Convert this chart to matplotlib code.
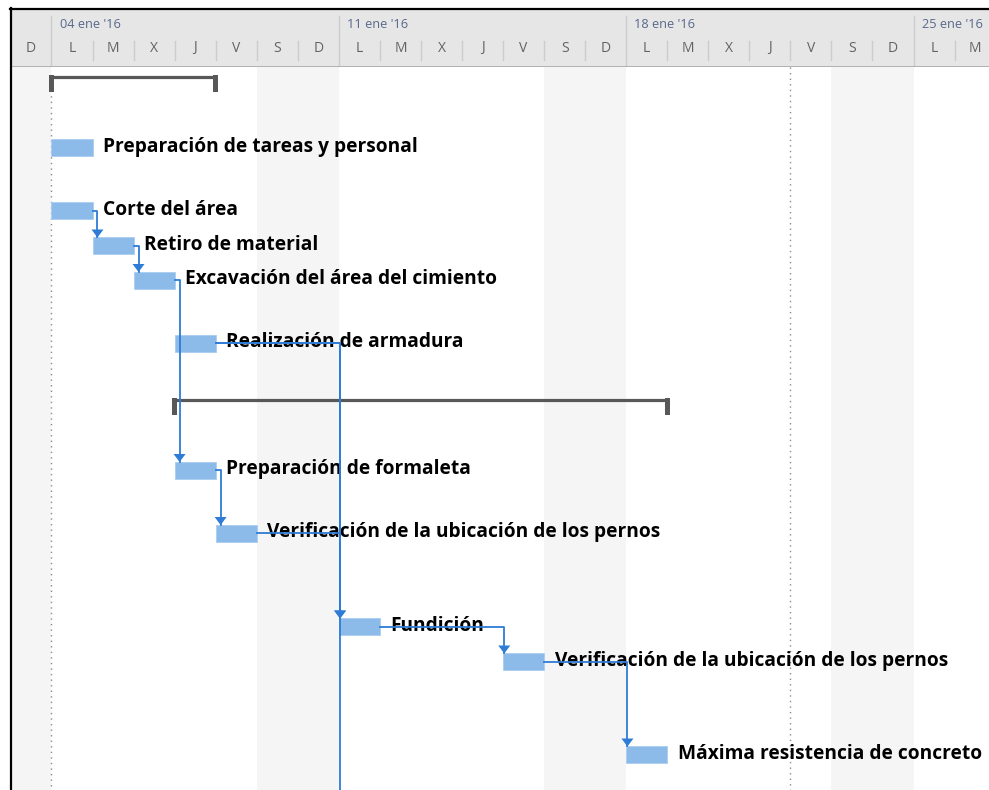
import matplotlib.pyplot as plt
from matplotlib.patches import Rectangle, Polygon
from matplotlib.lines import Line2D

# tasks (days counted from Mon 04 ene '16)
tasks = [
    "Preparación de tareas y personal",
    "Corte del área",
    "Retiro de material",
    "Excavación del área del cimiento",
    "Realización de armadura",
    "Preparación de formaleta",
    "Verificación de la ubicación de los pernos",
    "Fundición",
    "Verificación de la ubicación de los pernos",
    "Máxima resistencia de concreto",
]
task_start = [0, 0, 1, 2, 3, 3, 4, 7, 11, 14]
task_dur = [1, 1, 1, 1, 1, 1, 1, 1, 1, 1]

summary_start = [0, 3]
summary_end = [4, 15]

# finish-to-start links (predecessor index, successor index)
links = [(1, 2), (2, 3), (3, 5), (5, 6), (4, 7), (6, 7), (7, 8), (8, 9)]
# links going to tasks below the visible area (predecessor index, successor start)
links_offscreen = [(4, 7)]

weekend_days = [-1, 5, 6, 12, 13, 19, 20]
week_labels = ["04 ene '16", "11 ene '16", "18 ene '16", "25 ene '16"]
week_start = [0, 7, 14, 21]
day_letters = ["D", "L", "M", "X", "J", "V", "S"]
marker_days = [0, 18]

# layout (pixel rows of the gantt view)
row_y = [148, 211, 246, 280.5, 343.5, 470.5, 533.5, 627, 662, 755]
summary_y = [77, 400]

W, H = 989, 790
x0, dw = 51.5, 41.05
xl = ((10 - x0) / dw, (W - x0) / dw)

bar_c = "#8cbbea"
link_c = "#2e7cd6"
sum_c = "#585858"

fig = plt.figure(figsize=(W / 100, H / 100), dpi=100)

ax = fig.add_axes([10 / W, 0, (W - 10) / W, (H - 67) / H])
ax.set_xlim(*xl)
ax.set_ylim(H, 67)
ax.axis("off")

hd = fig.add_axes([10 / W, (H - 67) / H, (W - 10) / W, 58 / H])
hd.set_xlim(*xl)
hd.set_ylim(67, 9)
hd.axis("off")
hd.add_patch(Rectangle((xl[0], 9), xl[1] - xl[0], 58, color="#e6e6e6", zorder=0))

# header
for d in range(-1, 23):
    hd.text(d + 0.5, 48, day_letters[(d + 1) % 7], ha="center", va="center",
            fontsize=10, color="#626262", family="Open Sans")
    if d in week_start:
        hd.plot([d, d], [16, 67], color="#cccccc", lw=1)
    else:
        hd.plot([d, d], [41, 60], color="#cccccc", lw=1)
for lab, d in zip(week_labels, week_start):
    hd.text(d + 0.2, 24, lab, ha="left", va="center", fontsize=9.2,
            color="#58698a", family="Open Sans")
hd.plot(xl, [66.5, 66.5], color="#a8a8a8", lw=1.2)

# body background
for d in weekend_days:
    ax.axvspan(d, d + 1, color="#f5f5f5", lw=0, zorder=0)
ax.plot([marker_days[0]] * 2, [79, H], color="#8a8a8a", lw=1, ls=(0, (1, 3)), zorder=1)
ax.plot([marker_days[1]] * 2, [67, H], color="#8a8a8a", lw=1, ls=(0, (1, 3)), zorder=1)

# summary brackets
for s, e, y in zip(summary_start, summary_end, summary_y):
    ax.plot([s, e], [y, y], color=sum_c, lw=2.3, solid_capstyle="butt", zorder=3)
    for xe in (s, e):
        ax.add_patch(Rectangle((xe - 2.5 / dw, y - 1.5), 5 / dw, 17, color=sum_c,
                               lw=0, zorder=3))

# task bars and labels
bh = 17
for name, s, du, y in zip(tasks, task_start, task_dur, row_y):
    ax.add_patch(Rectangle((s, y - bh / 2), du, bh, facecolor=bar_c,
                           edgecolor="#a9cdf2", lw=0.6, zorder=4))
    ax.text(s + du + 0.26, y + 4, name, ha="left", va="baseline", fontsize=13.8,
            fontweight="bold", color="black", family="Open Sans", zorder=5)


def draw_link(xs, ys, xv, yt, arrow=True):
    ax.plot([xs, xv, xv], [ys, ys, yt], color=link_c, lw=1.3, zorder=6,
            solid_joinstyle="round")
    if arrow:
        hw = 6 / dw
        ax.add_patch(Polygon([[xv - hw, yt - 8], [xv + hw, yt - 8], [xv, yt]],
                             closed=True, color=link_c, lw=0, zorder=6))


for p, q in links:
    pend = task_start[p] + task_dur[p]
    qs = task_start[q]
    xv = qs + (0.12 if pend >= qs else 0.03)
    draw_link(pend, row_y[p], xv, row_y[q] - bh / 2)

for p, qs in links_offscreen:
    pend = task_start[p] + task_dur[p]
    draw_link(pend, row_y[p], qs + 0.03, H + 5, arrow=False)

# window border
fig.add_artist(Line2D([10.5 / W, 10.5 / W], [0, 1 - 8 / H], color="black", lw=1.6))
fig.add_artist(Line2D([10 / W, 1], [1 - 8.5 / H, 1 - 8.5 / H], color="black", lw=1.6))

fig.savefig("out.png", dpi=100)
